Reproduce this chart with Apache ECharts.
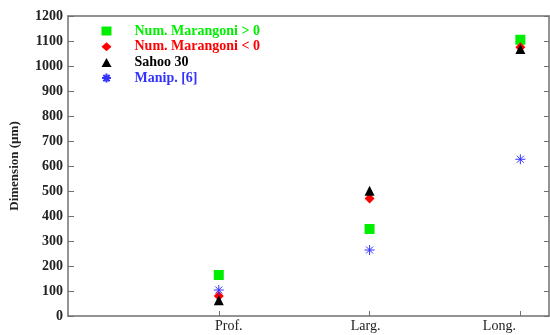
<!DOCTYPE html>
<html><head><meta charset="utf-8">
<script src="https://cdn.jsdelivr.net/npm/echarts@6/dist/echarts.min.js"></script>
<style>html,body{margin:0;padding:0;background:#fff}#c{width:550px;height:335px}</style>
</head><body><div id="c"></div>
<script>
var categories = ['Prof.', 'Larg.', 'Long.'];
var numMarangoniPos = [164, 348, 1105];
var numMarangoniNeg = [80, 470, 1075];
var sahoo30 = [63, 501, 1068];
var manip6 = [104, 264, 627];
var seriesNames = ['Num. Marangoni > 0', 'Num. Marangoni < 0', 'Sahoo 30', 'Manip. [6]'];
var seriesColors = ['#00ee00', '#ff0000', '#000000', '#3333ff'];
var yTicks = [0,100,200,300,400,500,600,700,800,900,1000,1100,1200];

var serif = 'Liberation Serif';
var axisCol = '#707070';
function pts(arr){ return arr.map(function(v,i){ return [i+1, v]; }); }
var star = 'path://M0,5L10,5M5,0L5,10M1.5,1.5L8.5,8.5M8.5,1.5L1.5,8.5';

var chart = echarts.init(document.getElementById('c'), null, {renderer:'canvas'});
chart.setOption({
  animation: false,
  backgroundColor: '#fff',
  grid: {left: 67, right: 1, top: 16, bottom: 19},
  xAxis: [{
    type: 'value', min: 0, max: 3.19,
    axisLine: {show: true, onZero: false, lineStyle: {color: axisCol, width: 1.5}},
    axisTick: {show: true, inside: true, length: 5, customValues: [1,2,3], lineStyle: {color: axisCol}},
    splitLine: {show: false},
    axisLabel: {
      customValues: [1,2,3], margin: 3,
      formatter: function(v){
        var n = Math.round(v);
        if (n === 1) return '{a|' + categories[0] + '}';
        if (n === 2) return '{b|' + categories[1] + '}';
        if (n === 3) return '{c|' + categories[2] + '}';
        return '';
      },
      rich: {
        a: {fontFamily: serif, fontSize: 14, color: '#222', padding: [0,0,0,20]},
        b: {fontFamily: serif, fontSize: 14, color: '#222', padding: [0,8,0,0]},
        c: {fontFamily: serif, fontSize: 14, color: '#222', padding: [0,42,0,0]}
      }
    }
  }, {
    type: 'value', min: 0, max: 3.19, position: 'top',
    axisLine: {show: true, onZero: false, lineStyle: {color: axisCol, width: 1.5}},
    axisTick: {show: false}, axisLabel: {show: false}, splitLine: {show: false}
  }],
  yAxis: [{
    type: 'value', min: 0, max: 1200, interval: 100,
    name: 'Dimension (µm)', nameLocation: 'middle', nameGap: 47, nameRotate: 90,
    nameTextStyle: {fontFamily: serif, fontSize: 13, fontWeight: 'bold', color: '#222'},
    axisLine: {show: true, onZero: false, lineStyle: {color: axisCol, width: 1.5}},
    axisTick: {show: true, inside: true, length: 6, lineStyle: {color: axisCol}},
    splitLine: {show: false},
    axisLabel: {fontFamily: serif, fontSize: 14, fontWeight: 'bold', color: '#222', margin: 5,
      customValues: yTicks, formatter: function(v){ return String(v); }}
  }, {
    type: 'value', min: 0, max: 1200, interval: 100, position: 'right',
    axisLine: {show: true, onZero: false, lineStyle: {color: axisCol, width: 1.5}},
    axisTick: {show: true, inside: true, length: 5, lineStyle: {color: axisCol}},
    axisLabel: {show: false}, splitLine: {show: false}
  }],
  legend: {
    show: true, orient: 'vertical', left: 96, top: 19, itemGap: 1.7,
    itemWidth: 10, itemHeight: 9,
    textStyle: {fontFamily: serif, fontSize: 14, fontWeight: 'bold', lineHeight: 12, padding: [0,0,0,18]},
    data: [
      {name: seriesNames[0], icon: 'rect', textStyle: {color: seriesColors[0]}},
      {name: seriesNames[1], icon: 'diamond', textStyle: {color: seriesColors[1]}},
      {name: seriesNames[2], icon: 'triangle', textStyle: {color: seriesColors[2]}},
      {name: seriesNames[3], icon: star, textStyle: {color: seriesColors[3]}}
    ]
  },
  series: [
    {name: seriesNames[0], type: 'scatter', symbol: 'rect', symbolSize: 10, data: pts(numMarangoniPos), itemStyle: {color: seriesColors[0], opacity: 1}},
    {name: seriesNames[1], type: 'scatter', symbol: 'diamond', symbolSize: 10, data: pts(numMarangoniNeg), itemStyle: {color: seriesColors[1], opacity: 1}},
    {name: seriesNames[2], type: 'scatter', symbol: 'triangle', symbolSize: 10, data: pts(sahoo30), itemStyle: {color: seriesColors[2], opacity: 1}},
    {name: seriesNames[3], type: 'scatter', symbol: star, symbolSize: 10, data: pts(manip6), itemStyle: {color: 'rgba(0,0,0,0)', borderColor: seriesColors[3], borderWidth: 1, opacity: 1}}
  ]
});
</script>
</body></html>
